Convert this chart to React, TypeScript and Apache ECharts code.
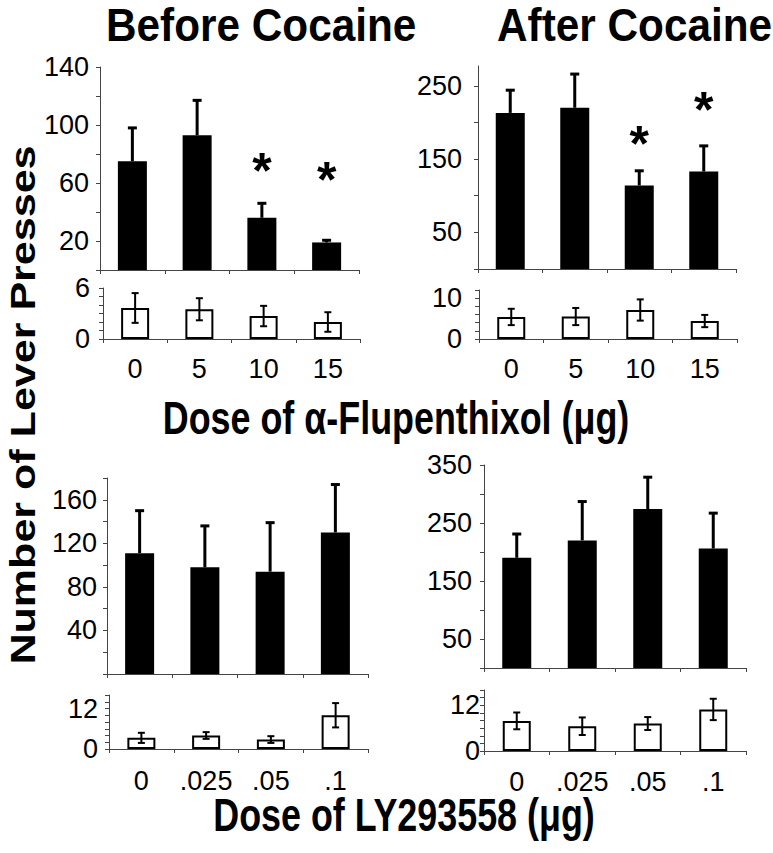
import React, { useEffect, useRef } from 'react';
import * as echarts from 'echarts';

// ---------- data ----------
const flupCats = ['0', '5', '10', '15'];
const lyCats = ['0', '.025', '.05', '.1'];

// Before cocaine, alpha-flupenthixol
const flupBeforeMean = [75, 93, 36, 19];
const flupBeforeErr = [23, 24, 10, 1.5];
const flupBeforeStar = [null, null, 73, 67];
const flupBeforeInactMean = [3.65, 3.5, 2.7, 2.0];
const flupBeforeInactErr = [1.75, 1.3, 1.2, 1.15];

// After cocaine, alpha-flupenthixol
const flupAfterMean = [213, 220, 114, 133];
const flupAfterErr = [31, 46, 20, 35];
const flupAfterStar = [null, null, 180, 226];
const flupAfterInactMean = [5.4, 5.5, 7.1, 4.4];
const flupAfterInactErr = [2.0, 2.1, 2.6, 1.5];

// Before cocaine, LY293558
const lyBeforeMean = [111, 98, 94, 130];
const lyBeforeErr = [39, 38, 45, 44];
const lyBeforeInactMean = [3.3, 4.0, 2.8, 10.0];
const lyBeforeInactErr = [1.5, 1.0, 1.0, 3.6];

// After cocaine, LY293558
const lyAfterMean = [190, 220, 274, 206];
const lyAfterErr = [41, 67, 55, 61];
const lyAfterInactMean = [7.9, 6.5, 7.2, 10.9];
const lyAfterInactErr = [2.2, 2.3, 1.7, 2.8];

// axis ticks / tick labels
const fbTicks = [0, 20, 40, 60, 80, 100, 120, 140];
const fbLabels = [20, 60, 100, 140];
const fbiTicks = [0, 1, 2, 3, 4, 5, 6];
const fbiLabels = [0, 6];
const faTicks = [0, 50, 100, 150, 200, 250];
const faLabels = [50, 150, 250];
const faiTicks = [0, 2, 4, 6, 8, 10, 12];
const faiLabels = [0, 10];
const lbTicks = [0, 20, 40, 60, 80, 100, 120, 140, 160, 180];
const lbLabels = [40, 80, 120, 160];
const lbiTicks = [0, 2, 4, 6, 8, 10, 12, 14, 16];
const lbiLabels = [0, 12];
const laTicks = [0, 50, 100, 150, 200, 250, 300, 350];
const laLabels = [50, 150, 250, 350];
const laiTicks = [0, 2, 4, 6, 8, 10, 12, 14, 16];
const laiLabels = [0, 12];

const titleBefore = 'Before Cocaine';
const titleAfter = 'After Cocaine';
const yTitle = 'Number of Lever Presses';
const xTitleTop = 'Dose of \u03b1-Flupenthixol (\u03bcg)';
const xTitleBottom = 'Dose of LY293558 (\u03bcg)';

// ---------- layout ----------
const FONT = '"Liberation Sans", Arial, Helvetica, sans-serif';

const panels = [
  { cats: flupCats, mean: flupBeforeMean, err: flupBeforeErr, star: flupBeforeStar, max: 140, step: 20, ticks: fbTicks, labels: fbLabels, small: false,
    grid: { left: 100, top: 67, width: 259, height: 203 }, yMargin: 11, xMargin: 0 },
  { cats: flupCats, mean: flupBeforeInactMean, err: flupBeforeInactErr, star: null, max: 6, step: 1, ticks: fbiTicks, labels: fbiLabels, small: true,
    grid: { left: 103, top: 288, width: 257, height: 51 }, yMargin: 13, xMargin: 16 },
  { cats: flupCats, mean: flupAfterMean, err: flupAfterErr, star: flupAfterStar, max: 277, step: 50, ticks: faTicks, labels: faLabels, small: false,
    grid: { left: 478, top: 66, width: 258, height: 203 }, yMargin: 16, xMargin: 0 },
  { cats: flupCats, mean: flupAfterInactMean, err: flupAfterInactErr, star: null, max: 12, step: 2, ticks: faiTicks, labels: faiLabels, small: true,
    grid: { left: 479, top: 290, width: 258, height: 49 }, yMargin: 17, xMargin: 16 },
  { cats: lyCats, mean: lyBeforeMean, err: lyBeforeErr, star: null, max: 180, step: 20, ticks: lbTicks, labels: lbLabels, small: false,
    grid: { left: 107, top: 478, width: 261, height: 196 }, yMargin: 10, xMargin: 0 },
  { cats: lyCats, mean: lyBeforeInactMean, err: lyBeforeInactErr, star: null, max: 16, step: 2, ticks: lbiTicks, labels: lbiLabels, small: true,
    grid: { left: 109, top: 695, width: 259, height: 54 }, yMargin: 11, xMargin: 18 },
  { cats: lyCats, mean: lyAfterMean, err: lyAfterErr, star: null, max: 350, step: 50, ticks: laTicks, labels: laLabels, small: false,
    grid: { left: 484, top: 465, width: 262, height: 203 }, yMargin: 12, xMargin: 0 },
  { cats: lyCats, mean: lyAfterInactMean, err: lyAfterInactErr, star: null, max: 16, step: 2, ticks: laiTicks, labels: laiLabels, small: true,
    grid: { left: 484, top: 690, width: 262, height: 61 }, yMargin: 4, xMargin: 17 },
];

function buildOption(): any {
  const grid: any[] = [];
  const xAxis: any[] = [];
  const yAxis: any[] = [];
  const series: any[] = [];

  panels.forEach((p, i) => {
    grid.push({ ...p.grid, containLabel: false });
    xAxis.push({
      type: 'category',
      gridIndex: i,
      data: p.cats,
      boundaryGap: true,
      axisLine: { show: true, lineStyle: { color: '#444', width: 1 } },
      axisTick: { show: true, length: 4, alignWithLabel: false, interval: 0, lineStyle: { color: '#444' } },
      axisLabel: {
        show: p.small,
        interval: 0,
        margin: p.xMargin,
        color: '#000',
        fontSize: 27,
        fontFamily: FONT,
      },
      splitLine: { show: false },
    });
    const labelSet = p.labels;
    yAxis.push({
      type: 'value',
      gridIndex: i,
      min: 0,
      max: p.max,
      interval: p.step,
      axisLine: { show: true, lineStyle: { color: '#444', width: 1 } },
      axisTick: { show: true, length: 4, lineStyle: { color: '#444' }, customValues: p.ticks },
      axisLabel: {
        show: true,
        margin: p.yMargin,
        color: '#000',
        fontSize: 27,
        fontFamily: FONT,
        customValues: p.labels,
        formatter: (v: number) => (labelSet.indexOf(v) >= 0 ? String(v) : ''),
      },
      splitLine: { show: false },
    });

    series.push({
      type: 'bar',
      xAxisIndex: i,
      yAxisIndex: i,
      data: p.mean,
      barWidth: p.small ? 28 : 29,
      itemStyle: p.small
        ? { color: '#fff', borderColor: '#000', borderWidth: 2 }
        : { color: '#000', borderWidth: 0 },
      z: 2,
    });

    const small = p.small;
    series.push({
      type: 'custom',
      xAxisIndex: i,
      yAxisIndex: i,
      z: 5,
      data: p.mean.map((m, j) => [j, m, p.err[j]]),
      renderItem: (params: any, api: any) => {
        const j = api.value(0);
        const m = api.value(1);
        const e = api.value(2);
        const top = api.coord([j, m + e]);
        const bot = api.coord([j, small ? m - e : m]);
        const lw = small ? 2 : 3;
        const cap = small ? 7 : 9;
        const st = { stroke: '#000', lineWidth: lw };
        const children: any[] = [
          { type: 'line', shape: { x1: top[0], y1: top[1], x2: bot[0], y2: bot[1] }, style: st },
          { type: 'line', shape: { x1: top[0] - cap / 2, y1: top[1], x2: top[0] + cap / 2, y2: top[1] }, style: st },
        ];
        if (small) {
          children.push({ type: 'line', shape: { x1: bot[0] - cap / 2, y1: bot[1], x2: bot[0] + cap / 2, y2: bot[1] }, style: st });
        }
        return { type: 'group', children };
      },
    });

    if (p.star) {
      const starData = p.star
        .map((v, j) => (v == null ? null : [j, v]))
        .filter((d) => d != null);
      series.push({
        type: 'custom',
        xAxisIndex: i,
        yAxisIndex: i,
        z: 6,
        data: starData,
        renderItem: (params: any, api: any) => {
          const pt = api.coord([api.value(0), api.value(1)]);
          const fs = 50;
          return {
            type: 'text',
            x: pt[0],
            y: pt[1] + 0.14 * fs,
            style: {
              text: '*',
              fontSize: fs,
              fontWeight: 'bold',
              fontFamily: FONT,
              fill: '#000',
              align: 'center',
              verticalAlign: 'middle',
              textAlign: 'center',
              textVerticalAlign: 'middle',
            },
          };
        },
      });
    }
  });

  const txt = (text: string, x: number, y: number, fontSize: number, scaleX: number, align: string, rotation = 0) => ({
    type: 'text',
    x,
    y,
    rotation,
    scaleX,
    scaleY: 1,
    silent: true,
    style: {
      text,
      fontSize,
      fontWeight: 'bold',
      fontFamily: FONT,
      fill: '#000',
      align,
      textAlign: align,
      verticalAlign: 'middle',
      textVerticalAlign: 'middle',
    },
  });

  const graphic = [
    txt(titleBefore, 106, 25, 46, 0.92, 'left'),
    txt(titleAfter, 497, 25, 46, 0.92, 'left'),
    txt(xTitleTop, 396, 418, 46, 0.78, 'center'),
    txt(xTitleBottom, 404, 815, 46, 0.78, 'center'),
    txt(yTitle, 23, 405, 35, 1.23, 'center', Math.PI / 2),
  ];

  return {
    animation: false,
    backgroundColor: '#fff',
    textStyle: { fontFamily: FONT },
    grid,
    xAxis,
    yAxis,
    series,
    graphic,
  };
}

export default function App() {
  const ref = useRef<HTMLDivElement>(null);
  useEffect(() => {
    if (!ref.current) return;
    const chart = echarts.init(ref.current, undefined, { renderer: 'svg' });
    chart.setOption(buildOption());
    return () => {
      chart.dispose();
    };
  }, []);
  return (
    <div
      ref={ref}
      style={{ position: 'fixed', left: 0, top: 0, width: 773, height: 853, background: '#fff' }}
    />
  );
}
